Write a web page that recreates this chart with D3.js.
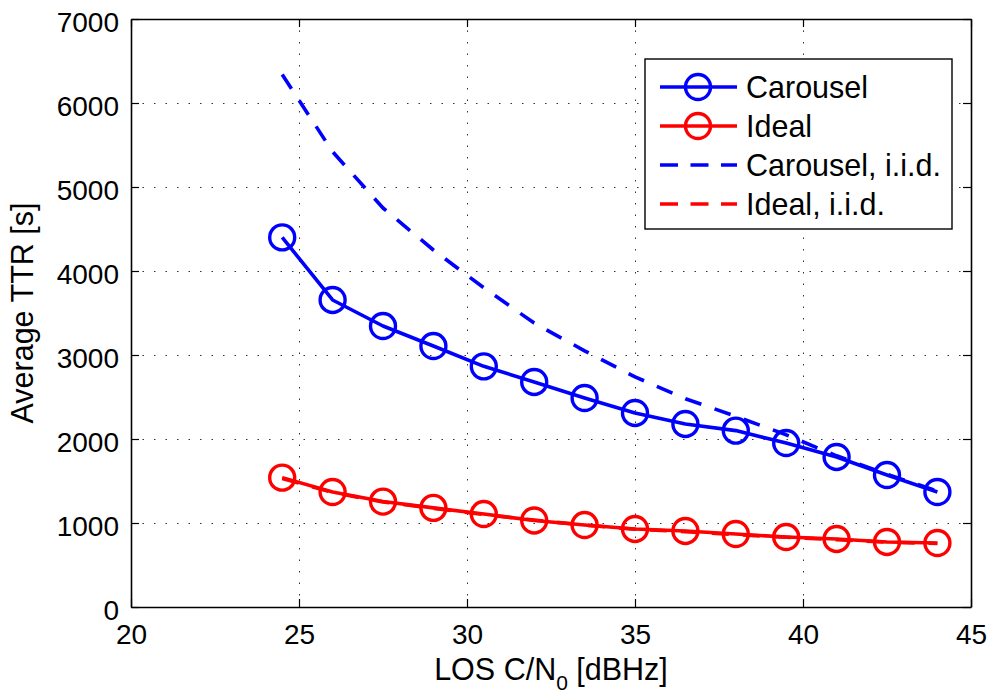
<!DOCTYPE html>
<html>
<head>
<meta charset="utf-8">
<script src="https://cdn.jsdelivr.net/npm/d3@7"></script>
<style>
  html, body { margin: 0; padding: 0; background: #fff; }
  svg { display: block; font-family: "Liberation Sans", Arial, Helvetica, sans-serif; }
</style>
</head>
<body>
<svg id="chart" width="992" height="693"></svg>
<script>
// ---- data ----
const cn0 = [24.5, 26, 27.5, 29, 30.5, 32, 33.5, 35, 36.5, 38, 39.5, 41, 42.5, 44];
const carousel = [4400, 3655, 3345, 3107, 2865, 2679, 2488, 2310, 2179, 2100, 1952, 1786, 1571, 1369];
const ideal = [1540, 1369, 1255, 1180, 1107, 1030, 976, 929, 905, 869, 833, 810, 774, 762];
const carouselIid = [6340, 5420, 4750, 4250, 3800, 3380, 3050, 2740, 2480, 2270, 2050, 1800, 1580, 1380];
const idealIid = [1530, 1365, 1250, 1175, 1100, 1035, 975, 925, 897, 862, 830, 802, 772, 756];
const xTicks = [20, 25, 30, 35, 40, 45];
const yTicks = [0, 1000, 2000, 3000, 4000, 5000, 6000, 7000];
const seriesNames = ["Carousel", "Ideal", "Carousel, i.i.d.", "Ideal, i.i.d."];
const seriesColors = ["#0000ff", "#ff0000", "#0000ff", "#ff0000"];

// ---- layout ----
const svg = d3.select("#chart");
const L = 131, R = 971, T = 19, B = 607;
const x = d3.scaleLinear().domain([20, 45]).range([L, R]);
const y = d3.scaleLinear().domain([0, 7000]).range([B, T]);
const FS = 28, LFS = 30.5;

// grid
const gridStyle = g => {
  g.select(".domain").remove();
  g.selectAll("line").attr("stroke", "#333").attr("stroke-width", 1).attr("stroke-dasharray", "1.5,10");
  g.selectAll("text").remove();
};
svg.append("g").attr("transform", `translate(0,${B})`)
  .call(d3.axisBottom(x).tickValues(xTicks.slice(1, -1)).tickSize(-(B - T)).tickFormat(""))
  .call(gridStyle);
svg.append("g").attr("transform", `translate(${L},0)`)
  .call(d3.axisLeft(y).tickValues(yTicks.slice(1, -1)).tickSize(-(R - L)).tickFormat(""))
  .call(gridStyle);

// axes
const axisStyle = g => {
  g.select(".domain").attr("stroke", "#000").attr("stroke-width", 1.6);
  g.selectAll(".tick line").attr("stroke", "#000").attr("stroke-width", 1.2);
  g.selectAll("text").attr("font-size", FS).attr("fill", "#000")
    .attr("font-family", "'Liberation Sans', Arial, sans-serif");
};
svg.append("g").attr("transform", `translate(0,${B})`)
  .call(d3.axisBottom(x).tickValues(xTicks).tickSize(-8).tickSizeOuter(0).tickPadding(17).tickFormat(d3.format("d")))
  .call(axisStyle);
svg.append("g").attr("transform", `translate(0,${T})`)
  .call(d3.axisTop(x).tickValues(xTicks).tickSize(-8).tickSizeOuter(0).tickFormat(""))
  .call(axisStyle);
const yAx = svg.append("g").attr("transform", `translate(${L},0)`)
  .call(d3.axisLeft(y).tickValues(yTicks).tickSize(-8).tickSizeOuter(0).tickPadding(12).tickFormat(d3.format("d")))
  .call(axisStyle);
yAx.selectAll("text").attr("dy", "0.45em");
svg.append("g").attr("transform", `translate(${R},0)`)
  .call(d3.axisRight(y).tickValues(yTicks).tickSize(-8).tickSizeOuter(0).tickFormat(""))
  .call(axisStyle);

// axis labels
const xl = svg.append("text").attr("x", 551).attr("y", 680)
  .attr("text-anchor", "middle").attr("font-size", LFS).attr("fill", "#000");
xl.append("tspan").text("LOS C/N");
xl.append("tspan").attr("font-size", 21).attr("dy", 10).text("0");
xl.append("tspan").attr("dy", -10).text(" [dBHz]");

svg.append("text").attr("transform", `translate(33,${(T + B) / 2}) rotate(-90)`)
  .attr("text-anchor", "middle").attr("font-size", LFS).attr("fill", "#000")
  .text("Average TTR [s]");

// series
const plotG = svg.append("g");
const line = vals => d3.line().x((d, i) => x(cn0[i])).y(d => y(d))(vals);
const allSeries = [carousel, ideal, carouselIid, idealIid];
const dashed = [false, false, true, true];
allSeries.forEach((vals, k) => {
  plotG.append("path").attr("d", line(vals))
    .attr("fill", "none").attr("stroke", seriesColors[k]).attr("stroke-width", 3.6)
    .attr("stroke-linejoin", "round")
    .attr("stroke-dasharray", dashed[k] ? "17,14" : null);
  if (!dashed[k]) {
    plotG.selectAll(null).data(vals).enter().append("circle")
      .attr("cx", (d, i) => x(cn0[i])).attr("cy", d => y(d)).attr("r", 12.5)
      .attr("fill", "none").attr("stroke", seriesColors[k]).attr("stroke-width", 3.4);
  }
});

// legend
const lg = svg.append("g");
lg.append("rect").attr("x", 645).attr("y", 59).attr("width", 307).attr("height", 170)
  .attr("fill", "#fff").attr("stroke", "#000").attr("stroke-width", 1.4);
const rowY = [87, 126, 165, 204];
seriesNames.forEach((name, k) => {
  lg.append("line").attr("x1", 660).attr("x2", 737).attr("y1", rowY[k]).attr("y2", rowY[k])
    .attr("stroke", seriesColors[k]).attr("stroke-width", 3.6)
    .attr("stroke-dasharray", dashed[k] ? "18,12.5" : null);
  if (!dashed[k]) {
    lg.append("circle").attr("cx", 698).attr("cy", rowY[k]).attr("r", 12.5)
      .attr("fill", "none").attr("stroke", seriesColors[k]).attr("stroke-width", 3.4);
  }
  lg.append("text").attr("x", 746).attr("y", rowY[k]).attr("dy", "0.36em")
    .attr("font-size", LFS).attr("fill", "#000").text(name);
});
</script>
</body>
</html>
